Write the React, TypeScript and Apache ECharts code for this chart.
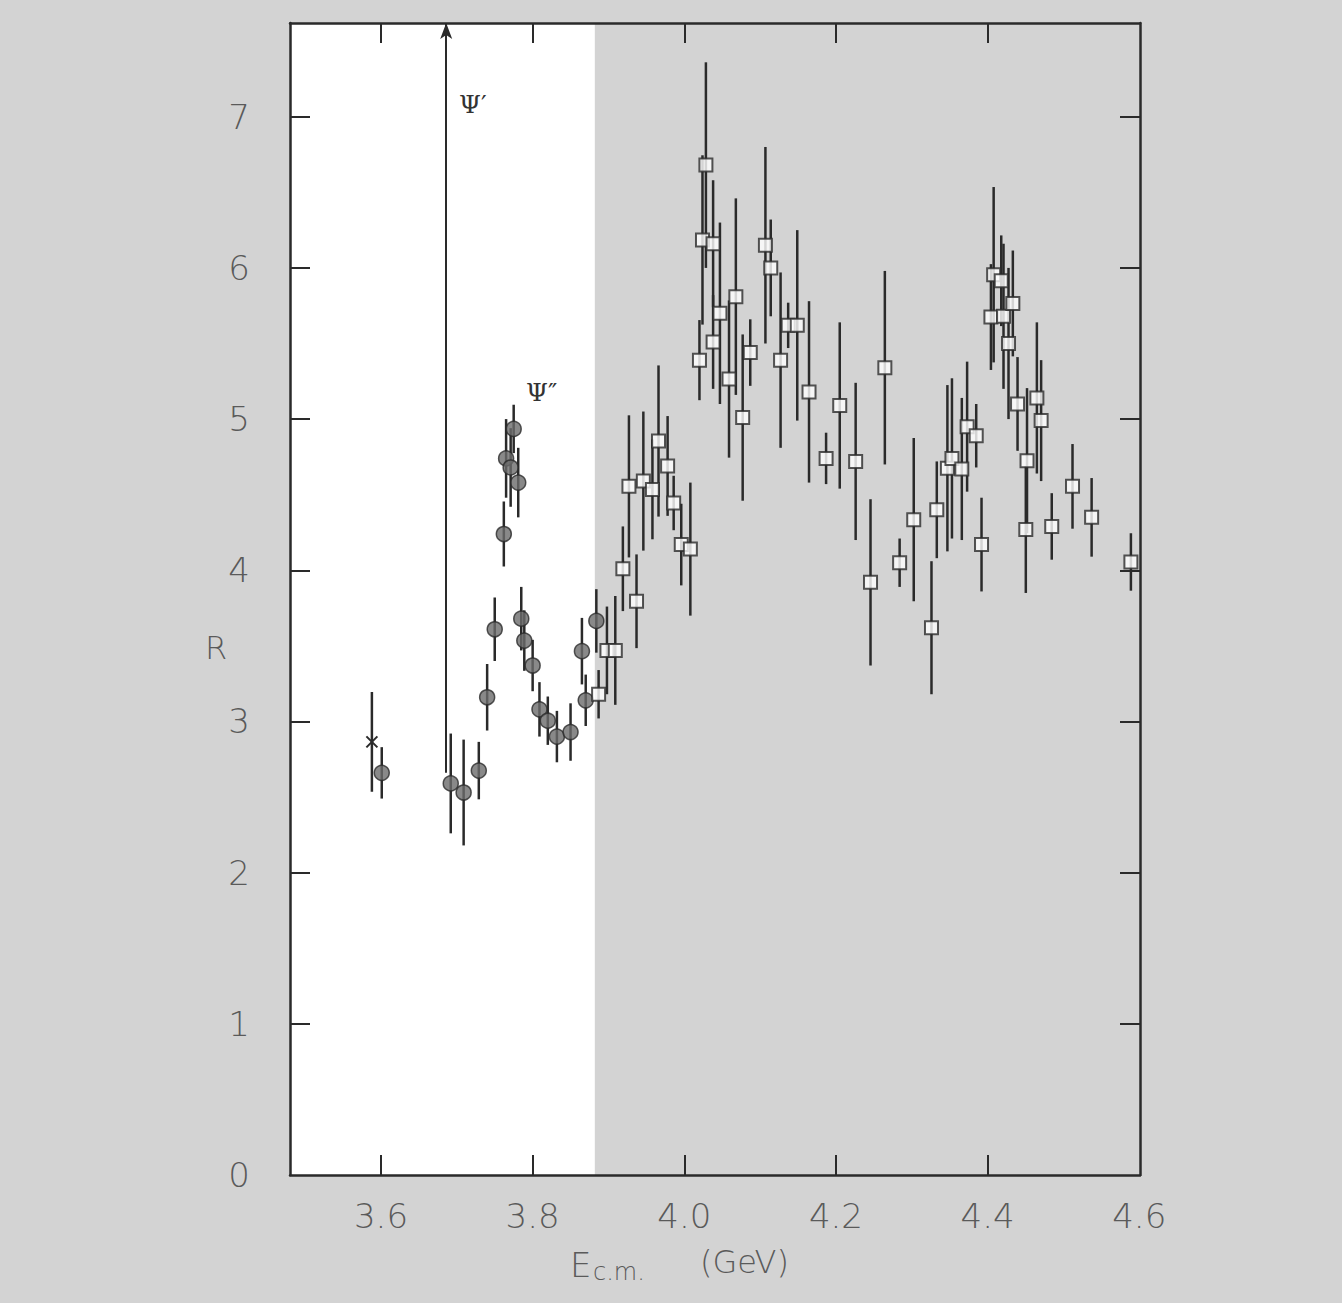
import React, { useEffect, useRef } from "react";
import * as echarts from "echarts";

// ---- Data (E_cm in GeV, R, symmetric error) ----
const circleE = [3.601, 3.692, 3.709, 3.729, 3.74, 3.75, 3.762, 3.765, 3.771, 3.775, 3.781, 3.785, 3.789, 3.8, 3.809, 3.82, 3.832, 3.85, 3.865, 3.87, 3.884];
const circleR = [2.66, 2.59, 2.53, 2.675, 3.16, 3.61, 4.24, 4.74, 4.68, 4.935, 4.58, 3.68, 3.535, 3.37, 3.08, 3.005, 2.9, 2.93, 3.465, 3.14, 3.665];
const circleErr = [0.17, 0.33, 0.35, 0.19, 0.22, 0.21, 0.215, 0.26, 0.26, 0.16, 0.23, 0.21, 0.2, 0.17, 0.18, 0.16, 0.17, 0.19, 0.22, 0.17, 0.21];

const crossE = [3.588];
const crossR = [2.865];
const crossErr = [0.33];

const squareE = [3.887, 3.898, 3.909, 3.919, 3.927, 3.937, 3.946, 3.958, 3.966, 3.978, 3.986, 3.996, 4.008, 4.02, 4.024, 4.0285, 4.038, 4.038, 4.047, 4.059, 4.068, 4.077, 4.087, 4.107, 4.114, 4.127, 4.137, 4.149, 4.1645, 4.187, 4.205, 4.226, 4.2456, 4.2645, 4.284, 4.3026, 4.326, 4.333, 4.347, 4.353, 4.366, 4.373, 4.385, 4.392, 4.4044, 4.408, 4.418, 4.421, 4.4276, 4.4333, 4.4395, 4.4504, 4.452, 4.465, 4.4706, 4.4846, 4.512, 4.5372, 4.589];
const squareR = [3.18, 3.47, 3.47, 4.01, 4.555, 3.795, 4.59, 4.535, 4.855, 4.69, 4.445, 4.17, 4.14, 5.39, 6.185, 6.68, 6.16, 5.51, 5.7, 5.265, 5.81, 5.01, 5.44, 6.15, 6.0, 5.39, 5.62, 5.62, 5.18, 4.74, 5.09, 4.72, 3.92, 5.34, 4.05, 4.335, 3.62, 4.4, 4.675, 4.74, 4.67, 4.95, 4.89, 4.17, 5.675, 5.955, 5.915, 5.68, 5.5, 5.765, 5.1, 4.27, 4.725, 5.14, 4.99, 4.29, 4.555, 4.35, 4.055];
const squareErr = [0.16, 0.29, 0.36, 0.28, 0.47, 0.31, 0.46, 0.33, 0.5, 0.33, 0.18, 0.27, 0.44, 0.265, 0.56, 0.68, 0.42, 0.31, 0.6, 0.52, 0.65, 0.55, 0.22, 0.65, 0.32, 0.58, 0.15, 0.63, 0.6, 0.17, 0.55, 0.52, 0.55, 0.64, 0.16, 0.54, 0.44, 0.32, 0.55, 0.53, 0.47, 0.43, 0.21, 0.31, 0.35, 0.58, 0.3, 0.48, 0.5, 0.35, 0.31, 0.42, 0.48, 0.5, 0.4, 0.22, 0.28, 0.26, 0.19];

const X_TICKS = [3.6, 3.8, 4.0, 4.2, 4.4, 4.6];
const Y_TICKS = [0, 1, 2, 3, 4, 5, 6, 7];
const X_MIN = 3.48;
const X_MAX = 4.601;
const Y_MIN = 0;
const Y_MAX = 7.62;
const PSI_PRIME_E = 3.686;
const PSI_PRIME_ARROW = [2.66, 7.62];
const WHITE_REGION = [3.48, 3.882];

const INK = "#2a2a2a";
const LABEL = "#5a5a5a";
const FONT = "'DejaVu Sans', 'Liberation Sans', sans-serif";
const SERIF = "'DejaVu Serif', 'Liberation Serif', serif";

function bars(es: number[], rs: number[], errs: number[]) {
  return es.map((e, i) => [e, rs[i] - errs[i], rs[i] + errs[i]]);
}

export default function App() {
  const ref = useRef<HTMLDivElement>(null);
  useEffect(() => {
    if (!ref.current) return;
    const chart = echarts.init(ref.current, null, { renderer: "svg" });

    const errData = [
      ...bars(circleE, circleR, circleErr),
      ...bars(crossE, crossR, crossErr),
      ...bars(squareE, squareR, squareErr),
    ];

    const axisLine = { show: true, onZero: false, lineStyle: { color: INK, width: 2.5 } };
    const tickStyle = { color: INK, width: 2 };
    const labelStyle = { fontSize: 34, color: LABEL, fontFamily: FONT, fontWeight: 200 as any };

    const option: any = {
      animation: false,
      backgroundColor: "#d3d3d3",
      grid: { left: 290, top: 23, width: 850, height: 1152, containLabel: false },
      xAxis: [
        {
          type: "value", min: X_MIN, max: X_MAX, position: "bottom", z: 5,
          axisLine,
          axisTick: { show: true, inside: true, length: 20, lineStyle: tickStyle, customValues: X_TICKS.slice(0, 5) },
          axisLabel: { ...labelStyle, customValues: X_TICKS, margin: 24, formatter: (v: number) => v.toFixed(1) },
          splitLine: { show: false },
        },
        {
          type: "value", min: X_MIN, max: X_MAX, position: "top", z: 5,
          axisLine,
          axisTick: { show: true, inside: true, length: 20, lineStyle: tickStyle, customValues: X_TICKS.slice(0, 5) },
          axisLabel: { show: false },
          splitLine: { show: false },
        },
      ],
      yAxis: [
        {
          type: "value", min: Y_MIN, max: Y_MAX, position: "left", z: 5,
          axisLine,
          axisTick: { show: true, inside: true, length: 20, lineStyle: tickStyle, customValues: Y_TICKS.slice(1) },
          axisLabel: { ...labelStyle, customValues: Y_TICKS, margin: 40, formatter: (v: number) => String(v) },
          splitLine: { show: false },
        },
        {
          type: "value", min: Y_MIN, max: Y_MAX, position: "right", z: 5,
          axisLine,
          axisTick: { show: true, inside: true, length: 20, lineStyle: tickStyle, customValues: Y_TICKS.slice(1) },
          axisLabel: { show: false },
          splitLine: { show: false },
        },
      ],
      series: [
        {
          type: "custom",
          name: "errors",
          xAxisIndex: 0, yAxisIndex: 0, z: 2,
          data: errData,
          encode: { x: 0, y: [1, 2] },
          renderItem: (params: any, api: any) => {
            const x = api.value(0);
            const p1 = api.coord([x, api.value(1)]);
            const p2 = api.coord([x, api.value(2)]);
            return {
              type: "line",
              shape: { x1: p1[0], y1: p1[1], x2: p2[0], y2: p2[1] },
              style: { stroke: INK, lineWidth: 2.5 },
            };
          },
        },
        {
          type: "scatter",
          name: "circles",
          xAxisIndex: 0, yAxisIndex: 0, z: 3,
          symbol: "circle",
          symbolSize: 15,
          itemStyle: { color: "#6b6b6b", borderColor: INK, borderWidth: 1.5 },
          data: circleE.map((e, i) => [e, circleR[i]]),
          markArea: {
            silent: true,
            itemStyle: { color: "#ffffff" },
            data: [[{ xAxis: WHITE_REGION[0] }, { xAxis: WHITE_REGION[1] }]],
          },
          markLine: {
            silent: true,
            symbol: ["none", "arrow"],
            symbolSize: [9, 16],
            label: { show: false },
            lineStyle: { color: INK, width: 2, type: "solid" },
            data: [[{ coord: [PSI_PRIME_E, PSI_PRIME_ARROW[0]] }, { coord: [PSI_PRIME_E, PSI_PRIME_ARROW[1]] }]],
          },
        },
        {
          type: "custom",
          name: "cross",
          xAxisIndex: 0, yAxisIndex: 0, z: 3,
          data: crossE.map((e, i) => [e, crossR[i]]),
          encode: { x: 0, y: 1 },
          renderItem: (params: any, api: any) => {
            const p = api.coord([api.value(0), api.value(1)]);
            const h = 5.5;
            return {
              type: "group",
              children: [
                { type: "line", shape: { x1: p[0] - h, y1: p[1] - h, x2: p[0] + h, y2: p[1] + h }, style: { stroke: INK, lineWidth: 2 } },
                { type: "line", shape: { x1: p[0] - h, y1: p[1] + h, x2: p[0] + h, y2: p[1] - h }, style: { stroke: INK, lineWidth: 2 } },
              ],
            };
          },
        },
        {
          type: "scatter",
          name: "squares",
          xAxisIndex: 0, yAxisIndex: 0, z: 3,
          symbol: "rect",
          symbolSize: 13,
          itemStyle: { color: "#ffffff", borderColor: INK, borderWidth: 2 },
          data: squareE.map((e, i) => [e, squareR[i]]),
        },
      ],
      graphic: [
        {
          type: "text", left: 459, top: 92, z: 10,
          style: { text: "Ψ′", fontSize: 25, fontFamily: SERIF, fill: "#333" },
        },
        {
          type: "text", left: 526, top: 380, z: 10,
          style: { text: "Ψ″", fontSize: 25, fontFamily: SERIF, fill: "#333" },
        },
        {
          type: "text", left: 205, top: 632, z: 10,
          style: { text: "R", fontSize: 32, fontFamily: FONT, fontWeight: 200, fill: LABEL },
        },
        {
          type: "text", left: 570, top: 1248, z: 10,
          style: { text: "E", fontSize: 34, fontFamily: FONT, fontWeight: 200, fill: LABEL },
        },
        {
          type: "text", left: 593, top: 1260, z: 10,
          style: { text: "c.m.", fontSize: 24, fontFamily: FONT, fontWeight: 200, fill: LABEL },
        },
        {
          type: "text", left: 700, top: 1246, z: 10,
          style: { text: "(GeV)", fontSize: 32, fontFamily: FONT, fontWeight: 200, fill: LABEL },
        },
      ],
    };

    chart.setOption(option);
    return () => chart.dispose();
  }, []);

  return (
    <div
      ref={ref}
      style={{ position: "absolute", left: 0, top: 0, width: 1342, height: 1303 }}
    />
  );
}
